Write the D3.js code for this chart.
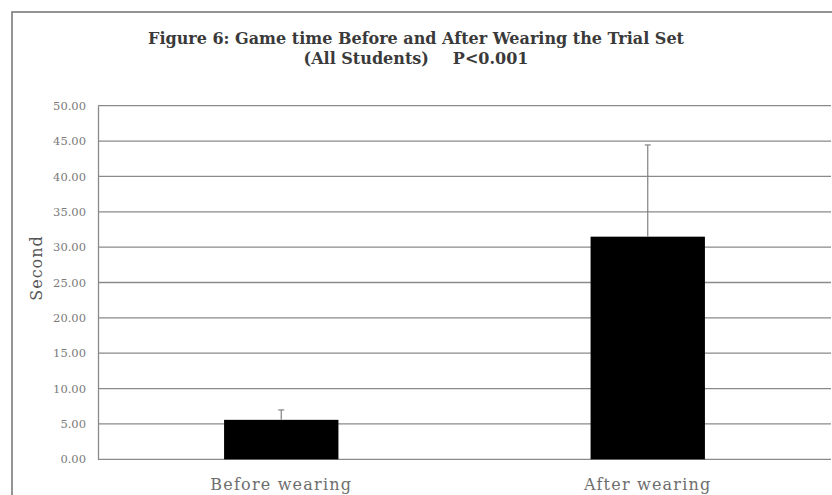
<!DOCTYPE html>
<html>
<head>
<meta charset="utf-8">
<script src="https://cdn.jsdelivr.net/npm/d3@7"></script>
<style>
  html, body { margin: 0; padding: 0; background: #fff; }
  svg { display: block; }
  text { font-family: "DejaVu Serif", "Liberation Serif", serif; }
</style>
</head>
<body>
<svg id="chart" width="832" height="495"></svg>
<script>
// Mean game time (seconds) with standard deviation
const categories = ["Before wearing", "After wearing"];
const means = [5.58, 31.48];
const errors = [1.40, 12.97];
const yTicks = [0, 5, 10, 15, 20, 25, 30, 35, 40, 45, 50];
const titleLines = ["Figure 6: Game time Before and After Wearing the Trial Set", "(All Students)\u2003\u2002P<0.001"];
const yLabel = "Second";

const svg = d3.select("#chart");
const W = 832, H = 495;
const plot = { left: 98, right: 831, top: 105.7, bottom: 459.3 };

// Outer chart frame (runs off the right and bottom edges)
svg.append("rect")
  .attr("x", 12).attr("y", 12)
  .attr("width", W + 10).attr("height", H + 10)
  .attr("fill", "#fff").attr("stroke", "#7a7a7a").attr("stroke-width", 1.6);

const x = d3.scaleBand().domain(categories)
  .range([plot.left, plot.right]).paddingInner(0.688).paddingOuter(0.344);
const y = d3.scaleLinear().domain([0, 50]).range([plot.bottom, plot.top]);

// Horizontal gridlines
svg.append("g").selectAll("line").data(yTicks).join("line")
  .attr("x1", plot.left).attr("x2", plot.right)
  .attr("y1", d => y(d)).attr("y2", d => y(d))
  .attr("stroke", "#8a8a8a").attr("stroke-width", 1.3);

// Y axis
const yAxis = svg.append("g").attr("transform", `translate(${plot.left},0)`)
  .call(d3.axisLeft(y).tickValues(yTicks).tickFormat(d3.format(".2f")).tickSize(0).tickPadding(12));
yAxis.select(".domain").attr("stroke", "#8a8a8a").attr("stroke-width", 1.3);
yAxis.selectAll("text").attr("fill", "#7a7a7a").attr("font-size", 11.5)
  .attr("font-family", "'DejaVu Serif', serif");

// Bars
svg.append("g").selectAll("rect").data(categories).join("rect")
  .attr("x", d => x(d)).attr("width", x.bandwidth())
  .attr("y", (d, i) => y(means[i])).attr("height", (d, i) => y(0) - y(means[i]))
  .attr("fill", "#000");

// Error bars (plus side only)
const eb = svg.append("g").attr("stroke", "#808080").attr("stroke-width", 1.2);
categories.forEach((c, i) => {
  const cx = x(c) + x.bandwidth() / 2;
  eb.append("line").attr("x1", cx).attr("x2", cx)
    .attr("y1", y(means[i])).attr("y2", y(means[i] + errors[i]));
  eb.append("line").attr("x1", cx - 3).attr("x2", cx + 3)
    .attr("y1", y(means[i] + errors[i])).attr("y2", y(means[i] + errors[i]));
});

// Category labels
svg.append("g").selectAll("text").data(categories).join("text")
  .attr("x", d => x(d) + x.bandwidth() / 2).attr("y", 490)
  .attr("text-anchor", "middle").attr("fill", "#6e6e6e").attr("font-size", 16)
  .attr("letter-spacing", 1.2)
  .text(d => d);

// Y axis title
svg.append("text")
  .attr("transform", "translate(42,268) rotate(-90)")
  .attr("text-anchor", "middle").attr("fill", "#555").attr("font-size", 16)
  .attr("letter-spacing", 1)
  .text(yLabel);

// Chart title
svg.append("g").selectAll("text").data(titleLines).join("text")
  .attr("x", 416).attr("y", (d, i) => 43.5 + i * 20.5)
  .attr("text-anchor", "middle").attr("fill", "#3a3a3a").attr("font-size", 16)
  .attr("font-weight", "bold")
  .text(d => d);
</script>
</body>
</html>
